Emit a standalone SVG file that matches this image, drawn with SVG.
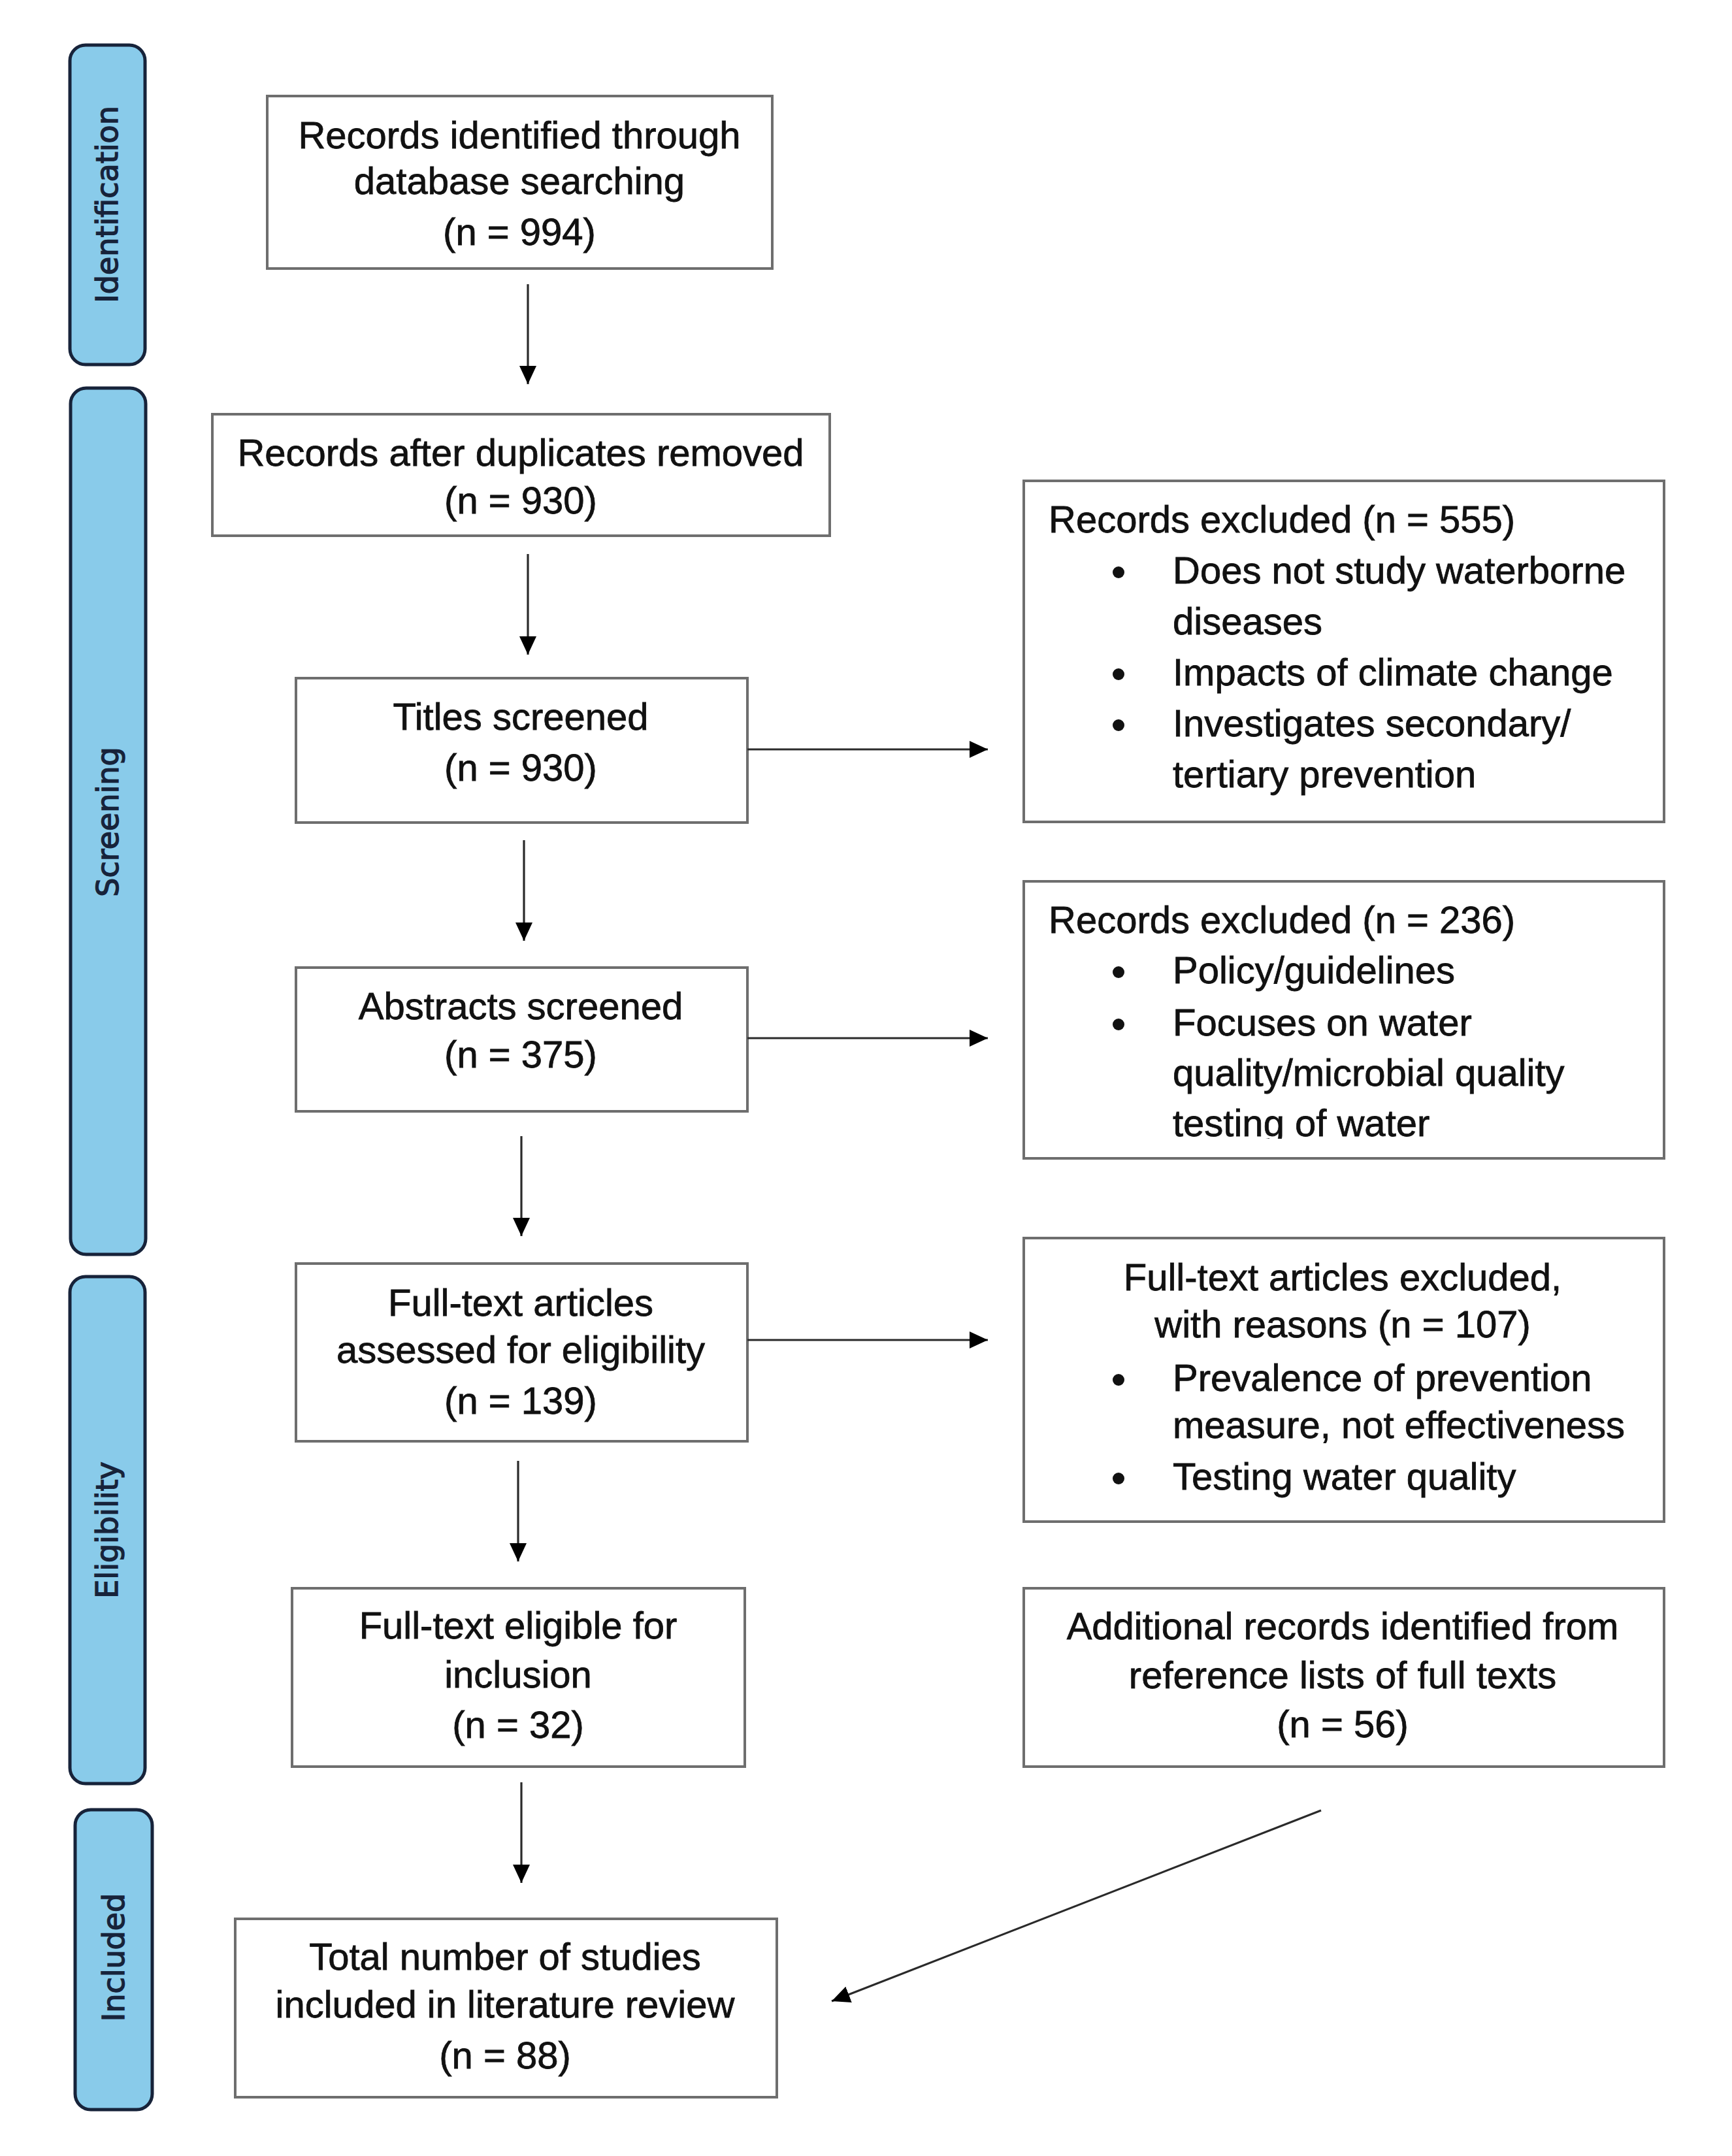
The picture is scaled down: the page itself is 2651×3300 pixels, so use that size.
<svg xmlns="http://www.w3.org/2000/svg" width="2651" height="3300" viewBox="0 0 2651 3300">
<style>
.box{fill:#fff;stroke:#6e6e6e;stroke-width:4}
.tab{fill:#89cbea;stroke:#17233a;stroke-width:5}
.t{font-family:"Liberation Sans",Arial,sans-serif;font-size:58px;fill:#111;stroke:#111;stroke-width:0.8}
.c{text-anchor:middle}
.tt{font-family:"DejaVu Sans",Verdana,sans-serif;font-size:46px;fill:#17233a;stroke:#17233a;stroke-width:1.4;text-anchor:middle;dominant-baseline:central}
.ln{stroke:#2a2a2a;stroke-width:3.2;fill:none}
.bul{fill:#111}
</style>
<defs>
<marker id="ah" markerUnits="userSpaceOnUse" markerWidth="30" markerHeight="28" refX="28" refY="13" orient="auto">
<path d="M0,0 L28,13 L0,26 z" fill="#000"/>
</marker>
<clipPath id="clip7"><rect x="1560" y="1345" width="990" height="398"/></clipPath>
</defs>
<rect width="2651" height="3300" fill="#fff"/>

<g id="tab-identification">
<rect class="tab" x="107" y="69" width="115" height="489" rx="24"/>
<text class="tt" transform="rotate(-90 164 313)" x="164" y="313">Identification</text>
</g>
<g id="tab-screening">
<rect class="tab" x="108" y="594" width="115" height="1326" rx="24"/>
<text class="tt" transform="rotate(-90 165 1258)" x="165" y="1258">Screening</text>
</g>
<g id="tab-eligibility">
<rect class="tab" x="107" y="1954" width="115" height="776" rx="24"/>
<text class="tt" transform="rotate(-90 164 2342)" x="164" y="2342">Eligibility</text>
</g>
<g id="tab-included">
<rect class="tab" x="115" y="2770" width="118" height="459" rx="24"/>
<text class="tt" transform="rotate(-90 174 2996)" x="174" y="2996">Included</text>
</g>

<g id="node-identified">
<rect class="box" x="409" y="147" width="773" height="264"/>
<text class="t c" x="795" y="227">Records identified through</text>
<text class="t c" x="795" y="297">database searching</text>
<text class="t c" x="795" y="375">(n = 994)</text>
</g>
<g id="node-duplicates">
<rect class="box" x="325" y="634" width="945" height="186"/>
<text class="t c" x="797" y="713">Records after duplicates removed</text>
<text class="t c" x="797" y="786">(n = 930)</text>
</g>
<g id="node-titles">
<rect class="box" x="453" y="1038" width="691" height="221"/>
<text class="t c" x="797" y="1117">Titles screened</text>
<text class="t c" x="797" y="1195">(n = 930)</text>
</g>
<g id="node-excluded-555">
<rect class="box" x="1567" y="736" width="980" height="522"/>
<text class="t" x="1605" y="815">Records excluded (n = 555)</text>
<circle class="bul" cx="1712" cy="876" r="9"/>
<text class="t" x="1795" y="893">Does not study waterborne</text>
<text class="t" x="1795" y="971">diseases</text>
<circle class="bul" cx="1712" cy="1032" r="9"/>
<text class="t" x="1795" y="1049">Impacts of climate change</text>
<circle class="bul" cx="1712" cy="1110" r="9"/>
<text class="t" x="1795" y="1127">Investigates secondary/</text>
<text class="t" x="1795" y="1205">tertiary prevention</text>
</g>
<g id="node-abstracts">
<rect class="box" x="453" y="1481" width="691" height="220"/>
<text class="t c" x="797" y="1560">Abstracts screened</text>
<text class="t c" x="797" y="1634">(n = 375)</text>
</g>
<g id="node-excluded-236">
<rect class="box" x="1567" y="1349" width="980" height="424"/>
<text class="t" x="1605" y="1428">Records excluded (n = 236)</text>
<circle class="bul" cx="1712" cy="1488" r="9"/>
<text class="t" x="1795" y="1505">Policy/guidelines</text>
<circle class="bul" cx="1712" cy="1568" r="9"/>
<text class="t" x="1795" y="1585">Focuses on water</text>
<text class="t" x="1795" y="1662">quality/microbial quality</text>
<text class="t" x="1795" y="1739" clip-path="url(#clip7)">testing of water</text>
</g>
<g id="node-fulltext-assessed">
<rect class="box" x="453" y="1934" width="691" height="272"/>
<text class="t c" x="797" y="2014">Full-text articles</text>
<text class="t c" x="797" y="2086">assessed for eligibility</text>
<text class="t c" x="797" y="2164">(n = 139)</text>
</g>
<g id="node-fulltext-excluded">
<rect class="box" x="1567" y="1895" width="980" height="434"/>
<text class="t c" x="2055" y="1975">Full-text articles excluded,</text>
<text class="t c" x="2055" y="2047">with reasons (n = 107)</text>
<circle class="bul" cx="1712" cy="2112" r="9"/>
<text class="t" x="1795" y="2129">Prevalence of prevention</text>
<text class="t" x="1795" y="2201">measure, not effectiveness</text>
<circle class="bul" cx="1712" cy="2263" r="9"/>
<text class="t" x="1795" y="2280">Testing water quality</text>
</g>
<g id="node-eligible">
<rect class="box" x="447" y="2431" width="693" height="273"/>
<text class="t c" x="793" y="2508">Full-text eligible for</text>
<text class="t c" x="793" y="2583">inclusion</text>
<text class="t c" x="793" y="2660">(n = 32)</text>
</g>
<g id="node-additional">
<rect class="box" x="1567" y="2431" width="980" height="273"/>
<text class="t c" x="2055" y="2509">Additional records identified from</text>
<text class="t c" x="2055" y="2584">reference lists of full texts</text>
<text class="t c" x="2055" y="2659">(n = 56)</text>
</g>
<g id="node-total">
<rect class="box" x="360" y="2937" width="829" height="273"/>
<text class="t c" x="773" y="3015">Total number of studies</text>
<text class="t c" x="773" y="3088">included in literature review</text>
<text class="t c" x="773" y="3166">(n = 88)</text>
</g>

<g id="connectors">
<line class="ln" x1="808" y1="435" x2="808" y2="588" marker-end="url(#ah)"/>
<line class="ln" x1="808" y1="848" x2="808" y2="1002" marker-end="url(#ah)"/>
<line class="ln" x1="802" y1="1286" x2="802" y2="1440" marker-end="url(#ah)"/>
<line class="ln" x1="798" y1="1739" x2="798" y2="1892" marker-end="url(#ah)"/>
<line class="ln" x1="793" y1="2236" x2="793" y2="2390" marker-end="url(#ah)"/>
<line class="ln" x1="798" y1="2728" x2="798" y2="2882" marker-end="url(#ah)"/>
<line class="ln" x1="1144" y1="1147" x2="1512" y2="1147" marker-end="url(#ah)"/>
<line class="ln" x1="1144" y1="1589" x2="1512" y2="1589" marker-end="url(#ah)"/>
<line class="ln" x1="1144" y1="2051" x2="1512" y2="2051" marker-end="url(#ah)"/>
<line class="ln" x1="2022" y1="2771" x2="1273" y2="3063" marker-end="url(#ah)"/>
</g>
</svg>
